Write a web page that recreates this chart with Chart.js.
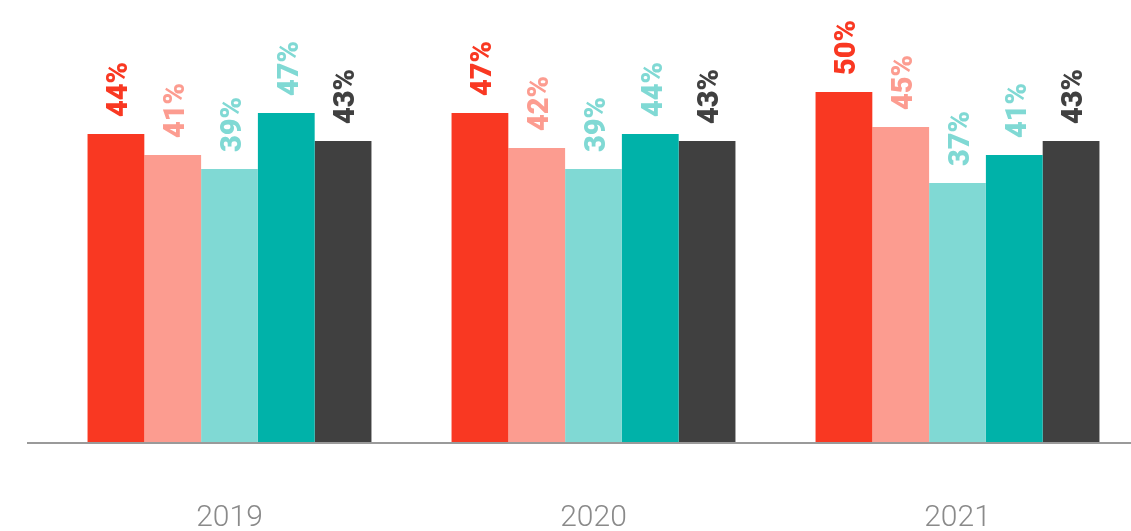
<!DOCTYPE html>
<html>
<head>
<meta charset="utf-8">
<script src="https://cdn.jsdelivr.net/npm/chart.js@4/dist/chart.umd.min.js"></script>
<style>
  html, body { margin: 0; padding: 0; background: #fff; overflow: hidden; }
  #wrap { width: 1131px; height: 531px; overflow: hidden; }
</style>
</head>
<body>
<div id="wrap"><canvas id="chart" width="1150" height="594"></canvas></div>
<script>
const years = ["2019", "2020", "2021"];
const seriesNames = ["Series A", "Series B", "Series C", "Series D", "Series E"];
const seriesA = [44, 47, 50];
const seriesB = [41, 42, 45];
const seriesC = [39, 39, 37];
const seriesD = [47, 44, 41];
const seriesE = [43, 43, 43];

const barColors = ["#f93822", "#fc9c90", "#80d9d4", "#00b2a9", "#404040"];
const labelColors = ["#f93822", "#fc9c90", "#80d9d4", "#80d9d4", "#404040"];

// rotated percentage labels above each bar + baseline
const barLabels = {
  id: "barLabels",
  afterDatasetsDraw(chart) {
    const ctx = chart.ctx;
    const area = chart.chartArea;

    ctx.save();
    ctx.fillStyle = "#9a9a9a";
    ctx.fillRect(area.left - 20.5, area.bottom, chart.width, 2);
    ctx.restore();

    chart.data.datasets.forEach((ds, i) => {
      const meta = chart.getDatasetMeta(i);
      meta.data.forEach((bar, j) => {
        ctx.save();
        ctx.translate(bar.x + 4, bar.y - 17);
        ctx.rotate(-Math.PI / 2);
        ctx.font = "900 29px Roboto";
        ctx.fillStyle = labelColors[i];
        ctx.textAlign = "left";
        ctx.textBaseline = "middle";
        ctx.fillText(ds.data[j] + "%", 0, 0);
        ctx.restore();
      });
    });
  },
};

const allSeries = [seriesA, seriesB, seriesC, seriesD, seriesE];

new Chart(document.getElementById("chart"), {
  type: "bar",
  data: {
    labels: years,
    datasets: allSeries.map((values, i) => ({
      label: seriesNames[i],
      data: values,
      backgroundColor: barColors[i],
      borderWidth: 0,
      categoryPercentage: 0.78,
      barPercentage: 1,
    })),
  },
  options: {
    responsive: false,
    animation: false,
    layout: {
      padding: { left: 47.5, right: 10.5, top: 22, bottom: 0 },
    },
    plugins: {
      legend: { display: false },
      tooltip: { enabled: false },
    },
    scales: {
      x: {
        grid: { display: false, drawTicks: false },
        border: { display: false },
        ticks: {
          color: "#8a8a8a",
          padding: 58,
          font: { family: "Roboto", size: 30, weight: "300" },
        },
      },
      y: {
        display: false,
        min: 0,
        max: 60,
      },
    },
  },
  plugins: [barLabels],
});
</script>
</body>
</html>
